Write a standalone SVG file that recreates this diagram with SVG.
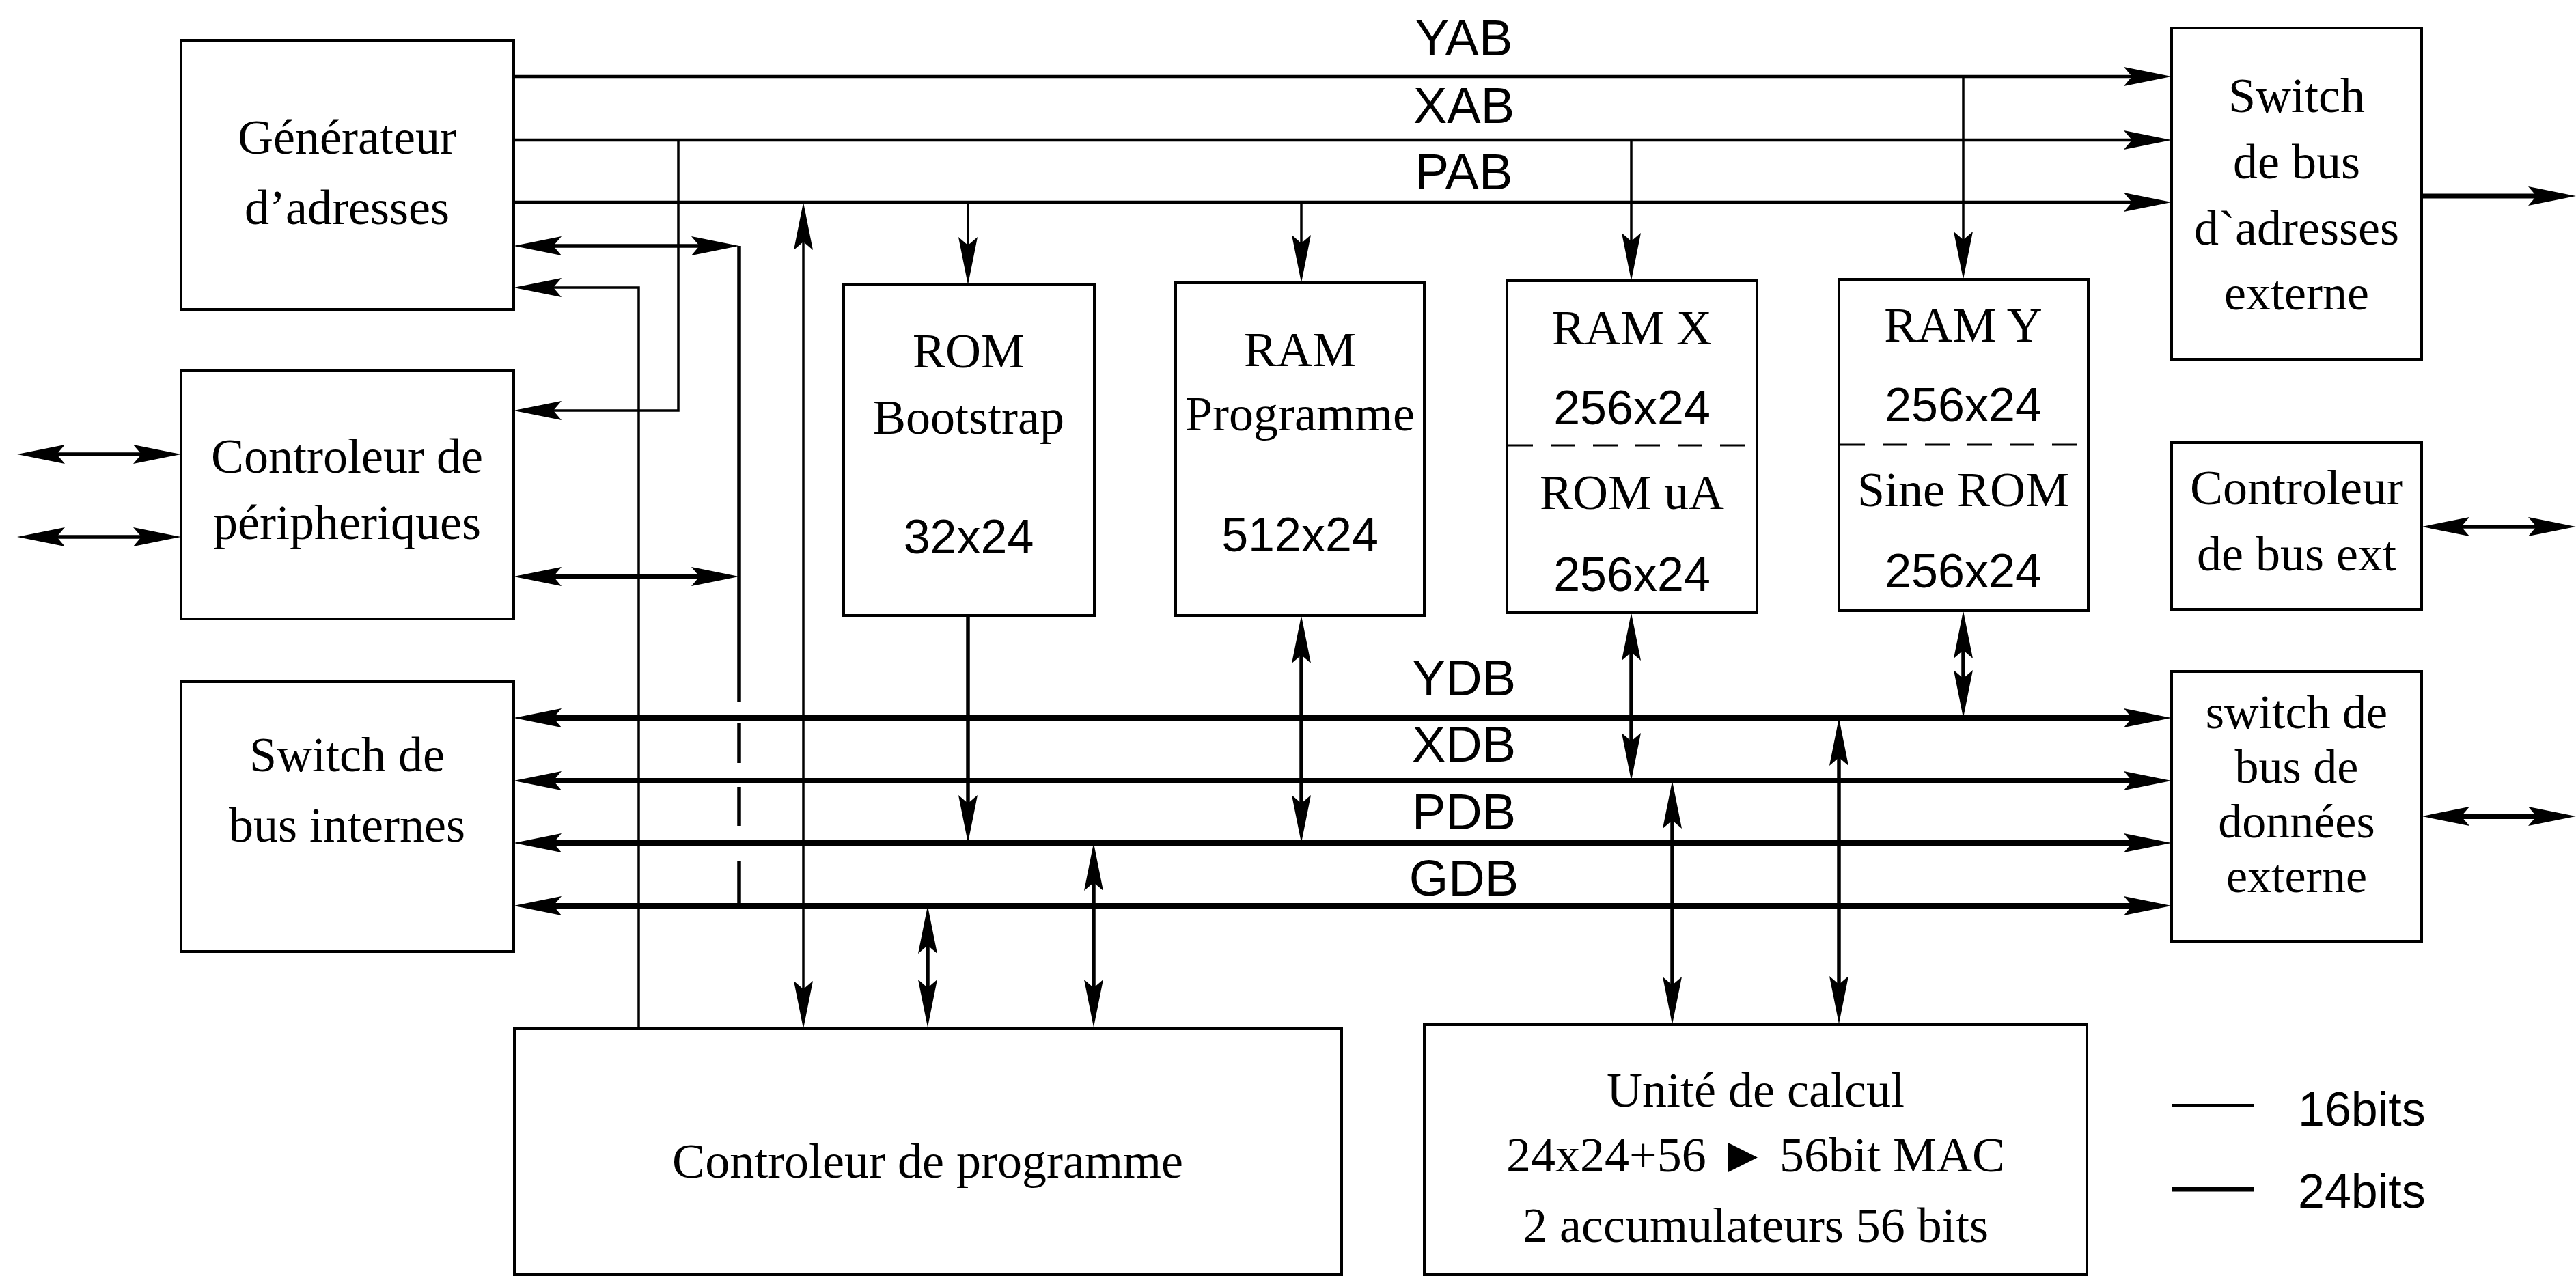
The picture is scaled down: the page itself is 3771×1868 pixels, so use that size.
<svg xmlns="http://www.w3.org/2000/svg" width="3771" height="1868" viewBox="0 0 3771 1868">
<style>
.box{fill:#fff;stroke:#000;stroke-width:4}
.t{font-family:"Liberation Serif","DejaVu Serif",serif;font-size:72px;text-anchor:middle;fill:#000}
.t2{font-family:"Liberation Serif","DejaVu Serif",serif;font-size:70px;text-anchor:middle;fill:#000}
.s{font-family:"Liberation Sans","DejaVu Sans",sans-serif;font-size:70px;text-anchor:middle;fill:#000}
.b{font-family:"Liberation Sans","DejaVu Sans",sans-serif;font-size:74px;text-anchor:middle;fill:#000}
.c{fill:none;stroke:#000}
.thin{stroke-width:3.5}
.addr{stroke-width:4.5}
.med{stroke-width:5.5}
.thick{stroke-width:8}
.dash{fill:none;stroke:#000;stroke-width:3;stroke-dasharray:36 26}
</style>
<defs>
<marker id="ah" viewBox="-72 -16 74 32" refX="-50" refY="0" markerWidth="74" markerHeight="32" markerUnits="userSpaceOnUse" orient="auto-start-reverse">
<path d="M0,0 L-70,-14 L-58,0 L-70,14 Z" fill="#000"/>
</marker>
</defs>
<rect width="3771" height="1868" fill="#fff"/>

<g id="connectors">
<path class="c addr" d="M752,112 H3129" marker-end="url(#ah)"/>
<path class="c addr" d="M752,205 H3129" marker-end="url(#ah)"/>
<path class="c addr" d="M752,296 H3129" marker-end="url(#ah)"/>
<path class="c" stroke-width="7" d="M3545,287 H3721" marker-end="url(#ah)"/>
<path class="c thin" d="M2874,112 V359" marker-end="url(#ah)"/>
<path class="c thin" d="M2388,205 V361" marker-end="url(#ah)"/>
<path class="c thin" d="M1417,296 V367" marker-end="url(#ah)"/>
<path class="c thin" d="M1905,296 V364" marker-end="url(#ah)"/>
<path class="c thin" d="M993,205 V601 H802" marker-end="url(#ah)"/>
<path class="c thin" d="M935,1506 V421 H802" marker-end="url(#ah)"/>
<path class="c med" d="M802,360 H1032" marker-start="url(#ah)" marker-end="url(#ah)"/>
<path class="c med" d="M1082,360 V1028 M1082,1058 V1117 M1082,1152 V1209 M1082,1260 V1328"/>
<path class="c thick" d="M802,844 H1032" marker-start="url(#ah)" marker-end="url(#ah)"/>
<path class="c med" d="M75,665 H215" marker-start="url(#ah)" marker-end="url(#ah)"/>
<path class="c med" d="M75,786 H215" marker-start="url(#ah)" marker-end="url(#ah)"/>
<path class="c thin" d="M1176,346 V1456" marker-start="url(#ah)" marker-end="url(#ah)"/>
<path class="c thick" d="M802,1051 H3129" marker-start="url(#ah)" marker-end="url(#ah)"/>
<path class="c thick" d="M802,1143 H3129" marker-start="url(#ah)" marker-end="url(#ah)"/>
<path class="c thick" d="M802,1234 H3129" marker-start="url(#ah)" marker-end="url(#ah)"/>
<path class="c thick" d="M802,1326 H3129" marker-start="url(#ah)" marker-end="url(#ah)"/>
<path class="c med" d="M1417,901 V1184" marker-end="url(#ah)"/>
<path class="c med" d="M1905,951 V1184" marker-start="url(#ah)" marker-end="url(#ah)"/>
<path class="c med" d="M2388,947 V1093" marker-start="url(#ah)" marker-end="url(#ah)"/>
<path class="c med" d="M2874,944 V1001" marker-start="url(#ah)" marker-end="url(#ah)"/>
<path class="c med" d="M2448,1193 V1450" marker-start="url(#ah)" marker-end="url(#ah)"/>
<path class="c med" d="M2692,1101 V1449" marker-start="url(#ah)" marker-end="url(#ah)"/>
<path class="c med" d="M1358,1376 V1454" marker-start="url(#ah)" marker-end="url(#ah)"/>
<path class="c med" d="M1601,1284 V1454" marker-start="url(#ah)" marker-end="url(#ah)"/>
<path class="c med" d="M3595,771 H3721" marker-start="url(#ah)" marker-end="url(#ah)"/>
<path class="c thick" d="M3595,1195 H3721" marker-start="url(#ah)" marker-end="url(#ah)"/>
</g>

<g id="bus-labels">
<text class="b" x="2143" y="81">YAB</text>
<text class="b" x="2143" y="180">XAB</text>
<text class="b" x="2143" y="277">PAB</text>
<text class="b" x="2143" y="1018">YDB</text>
<text class="b" x="2143" y="1115">XDB</text>
<text class="b" x="2143" y="1214">PDB</text>
<text class="b" x="2143" y="1311">GDB</text>
</g>

<g id="gen-adresses">
<rect class="box" x="265" y="59" width="487" height="394"/>
<text class="t" x="508" y="225">Générateur</text>
<text class="t" x="508" y="328">d’adresses</text>
</g>
<g id="ctrl-peripheriques">
<rect class="box" x="265" y="542" width="487" height="364"/>
<text class="t" x="508" y="692">Controleur de</text>
<text class="t" x="508" y="789">péripheriques</text>
</g>
<g id="switch-bus-internes">
<rect class="box" x="265" y="998" width="487" height="395"/>
<text class="t" x="508" y="1129">Switch de</text>
<text class="t" x="508" y="1232">bus internes</text>
</g>
<g id="rom-bootstrap">
<rect class="box" x="1235" y="417" width="367" height="484"/>
<text class="t" x="1418" y="538">ROM</text>
<text class="t" x="1418" y="635">Bootstrap</text>
<text class="s" x="1418" y="810">32x24</text>
</g>
<g id="ram-programme">
<rect class="box" x="1721" y="414" width="364" height="487"/>
<text class="t" x="1903" y="536">RAM</text>
<text class="t" x="1903" y="630">Programme</text>
<text class="s" x="1903" y="807">512x24</text>
</g>
<g id="ram-x">
<rect class="box" x="2206" y="411" width="366" height="486"/>
<line class="dash" x1="2208" y1="652" x2="2570" y2="652"/>
<text class="t" x="2389" y="504">RAM X</text>
<text class="s" x="2389" y="621">256x24</text>
<text class="t" x="2389" y="745">ROM uA</text>
<text class="s" x="2389" y="865">256x24</text>
</g>
<g id="ram-y">
<rect class="box" x="2692" y="409" width="365" height="485"/>
<line class="dash" x1="2694" y1="651" x2="3050" y2="651"/>
<text class="t" x="2874" y="500">RAM Y</text>
<text class="s" x="2874" y="617">256x24</text>
<text class="t" x="2874" y="741">Sine ROM</text>
<text class="s" x="2874" y="860">256x24</text>
</g>
<g id="switch-bus-adresses">
<rect class="box" x="3179" y="41" width="366" height="485"/>
<text class="t" x="3362" y="164">Switch</text>
<text class="t" x="3362" y="261">de bus</text>
<text class="t" x="3362" y="358">d`adresses</text>
<text class="t" x="3362" y="453">externe</text>
</g>
<g id="ctrl-bus-ext">
<rect class="box" x="3179" y="648" width="366" height="244"/>
<text class="t" x="3362" y="738">Controleur</text>
<text class="t" x="3362" y="835">de bus ext</text>
</g>
<g id="switch-bus-donnees">
<rect class="box" x="3179" y="983" width="366" height="395"/>
<text class="t2" x="3362" y="1066">switch de</text>
<text class="t2" x="3362" y="1146">bus de</text>
<text class="t2" x="3362" y="1226">données</text>
<text class="t2" x="3362" y="1306">externe</text>
</g>
<g id="ctrl-programme">
<rect class="box" x="753" y="1506" width="1211" height="360"/>
<text class="t" x="1358" y="1724">Controleur de programme</text>
</g>
<g id="unite-calcul">
<rect class="box" x="2085" y="1500" width="970" height="366"/>
<text class="t" x="2570" y="1620">Unité de calcul</text>
<text class="t" x="2570" y="1715">24x24+56 ► 56bit MAC</text>
<text class="t" x="2570" y="1818">2 accumulateurs 56 bits</text>
</g>
<g id="legend">
<line class="c" stroke-width="4" x1="3179" y1="1618" x2="3299" y2="1618"/>
<line class="c" stroke-width="7" x1="3179" y1="1741" x2="3299" y2="1741"/>
<text class="s" x="3364" y="1648" style="text-anchor:start">16bits</text>
<text class="s" x="3364" y="1768" style="text-anchor:start">24bits</text>
</g>
</svg>
